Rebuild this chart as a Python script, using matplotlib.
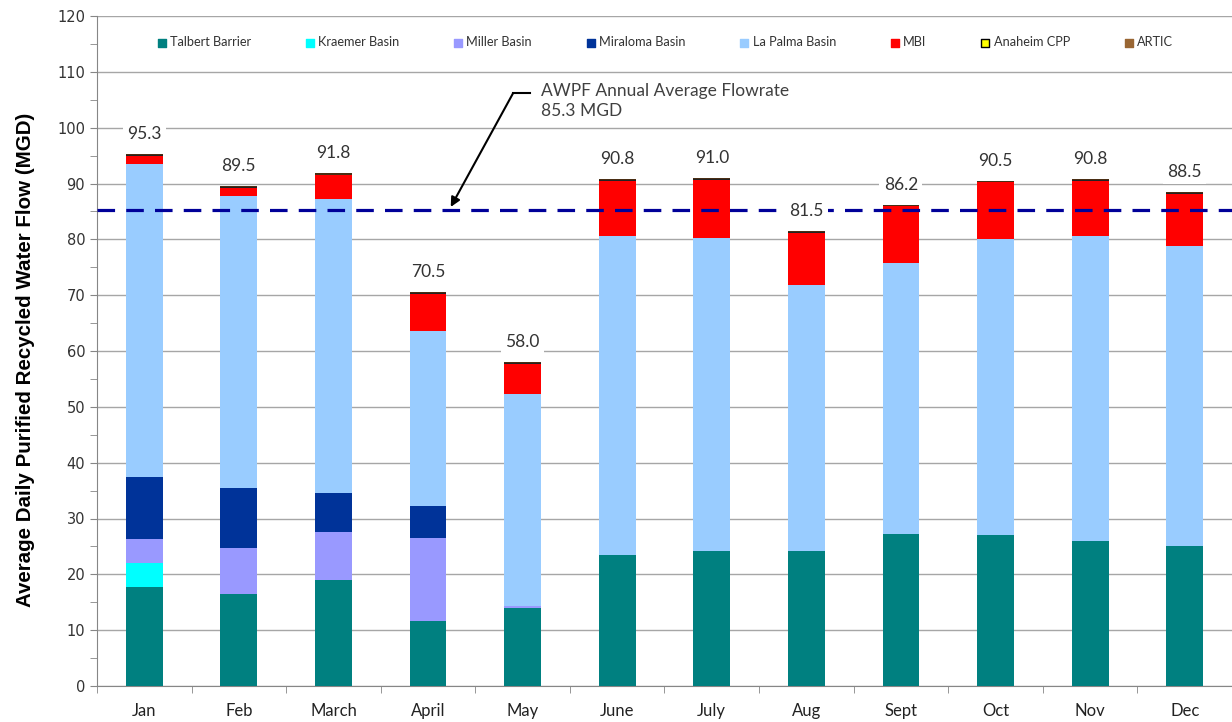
import numpy as np
import matplotlib
matplotlib.use("Agg")
import matplotlib.pyplot as plt
from matplotlib.ticker import MultipleLocator, FixedLocator

months = ["Jan", "Feb", "March", "April", "May", "June",
          "July", "Aug", "Sept", "Oct", "Nov", "Dec"]

# MGD per source
talbert = [17.8, 16.4, 18.9, 11.7, 14.0, 23.5, 24.2, 24.2, 27.3, 27.0, 26.0, 25.0]
kraemer = [4.2, 0, 0, 0, 0, 0, 0, 0, 0, 0, 0, 0]
miller = [4.3, 8.3, 8.6, 14.8, 0.3, 0, 0, 0, 0, 0, 0, 0]
miraloma = [11.1, 10.8, 7.1, 5.7, 0, 0, 0, 0, 0, 0, 0, 0]
la_palma = [56.1, 52.3, 52.6, 31.3, 38.0, 57.1, 56.0, 47.6, 48.5, 53.0, 54.6, 53.8]
mbi = [1.5, 1.4, 4.3, 6.7, 5.4, 9.9, 10.5, 9.4, 10.1, 10.2, 9.9, 9.4]
anaheim = [0.1] * 12
artic = [0.2] * 12
totals = [95.3, 89.5, 91.8, 70.5, 58.0, 90.8, 91.0, 81.5, 86.2, 90.5, 90.8, 88.5]
annual_avg = 85.3

series = [
    ("Talbert Barrier", talbert, "#008080"),
    ("Kraemer Basin", kraemer, "#00FFFF"),
    ("Miller Basin", miller, "#9999FF"),
    ("Miraloma Basin", miraloma, "#003399"),
    ("La Palma Basin", la_palma, "#99CCFF"),
    ("MBI", mbi, "#FF0000"),
    ("Anaheim CPP", anaheim, "#FFFF00"),
    ("ARTIC", artic, "#996633"),
]

fig = plt.figure(figsize=(12.32, 7.22), dpi=100)
ax = fig.add_axes([97 / 1232, 36 / 722, 1 - 97 / 1232, 670 / 722])

x = np.arange(len(months))
bottom = np.zeros(len(months))
handles = []
for name, vals, col in series:
    vals = np.array(vals, dtype=float)
    # the two tiny top layers read as a dark cap line in the original
    if name == "Anaheim CPP":
        fill = "#222222"
    elif name == "ARTIC":
        fill = "#4a2e14"
    else:
        fill = col
    ax.bar(x, vals, 0.39, bottom=bottom, color=fill, linewidth=0, zorder=3)
    edge = "black" if name == "Anaheim CPP" else col
    h = ax.scatter([], [], marker="s", s=34, color=col, edgecolor=edge, linewidth=1)
    handles.append((h, name))
    bottom += vals

for xi, t in zip(x, totals):
    ax.text(xi, t + 3.6, f"{t:.1f}", ha="center", va="center", fontsize=12.5,
            family=["Lato", "DejaVu Sans"], color="#333333", zorder=5,
            bbox=dict(boxstyle="square,pad=0.25", fc="white", ec="none"))

ax.axhline(annual_avg, color="#000099", lw=2.3, dashes=(5.5, 3.5), zorder=4)

# callout for the annual average
ax.plot([3.90, 4.08], [106.2, 106.2], color="black", lw=1.5, zorder=5)
ax.annotate("", xy=(3.24, 85.8), xytext=(3.90, 106.2),
            arrowprops=dict(arrowstyle="-|>", color="black", lw=1.5,
                            mutation_scale=14, shrinkA=0, shrinkB=0), zorder=5)
ax.text(4.19, 104.8, "AWPF Annual Average Flowrate\n85.3 MGD", ha="left", va="center",
        fontsize=12.5, family=["Lato", "DejaVu Sans"], color="#404040",
        linespacing=1.3, zorder=5)

ax.set_xlim(-0.5, 11.5)
ax.set_ylim(0, 120)
ax.yaxis.set_major_locator(MultipleLocator(10))
ax.yaxis.set_minor_locator(MultipleLocator(5))
ax.grid(axis="y", which="major", color="#A6A6A6", lw=1, zorder=0)
ax.set_axisbelow(True)

ax.set_xticks(x)
ax.set_xticklabels(months, fontsize=12, family=["Lato", "DejaVu Sans"], color="#222222")
ax.xaxis.set_minor_locator(FixedLocator(np.arange(-0.5, 12, 1)))
ax.tick_params(axis="x", which="major", length=0, pad=12)
ax.tick_params(axis="x", which="minor", length=5, color="#868686")
ax.tick_params(axis="y", which="both", length=5, color="#868686", labelsize=10.5,
               labelcolor="#333333")

for s in ["top", "right"]:
    ax.spines[s].set_visible(False)
ax.spines["left"].set_color("#868686")
ax.spines["bottom"].set_color("#868686")

ax.set_ylabel("Average Daily Purified Recycled Water Flow (MGD)", fontsize=14.8,
              fontweight="bold", family=["Liberation Sans Narrow", "Liberation Sans"])
ax.yaxis.set_label_coords(-0.055, 0.487)

leg = ax.legend([h for h, _ in handles], [n for _, n in handles], ncol=8,
                loc="center", bbox_to_anchor=(0.499, 0.961), frameon=False,
                handletextpad=0.05, columnspacing=4.0, handlelength=1.2,
                prop={"family": ["Lato", "DejaVu Sans"], "size": 9.2})
for t in leg.get_texts():
    t.set_color("#333333")

fig.savefig("out.png", dpi=100)
